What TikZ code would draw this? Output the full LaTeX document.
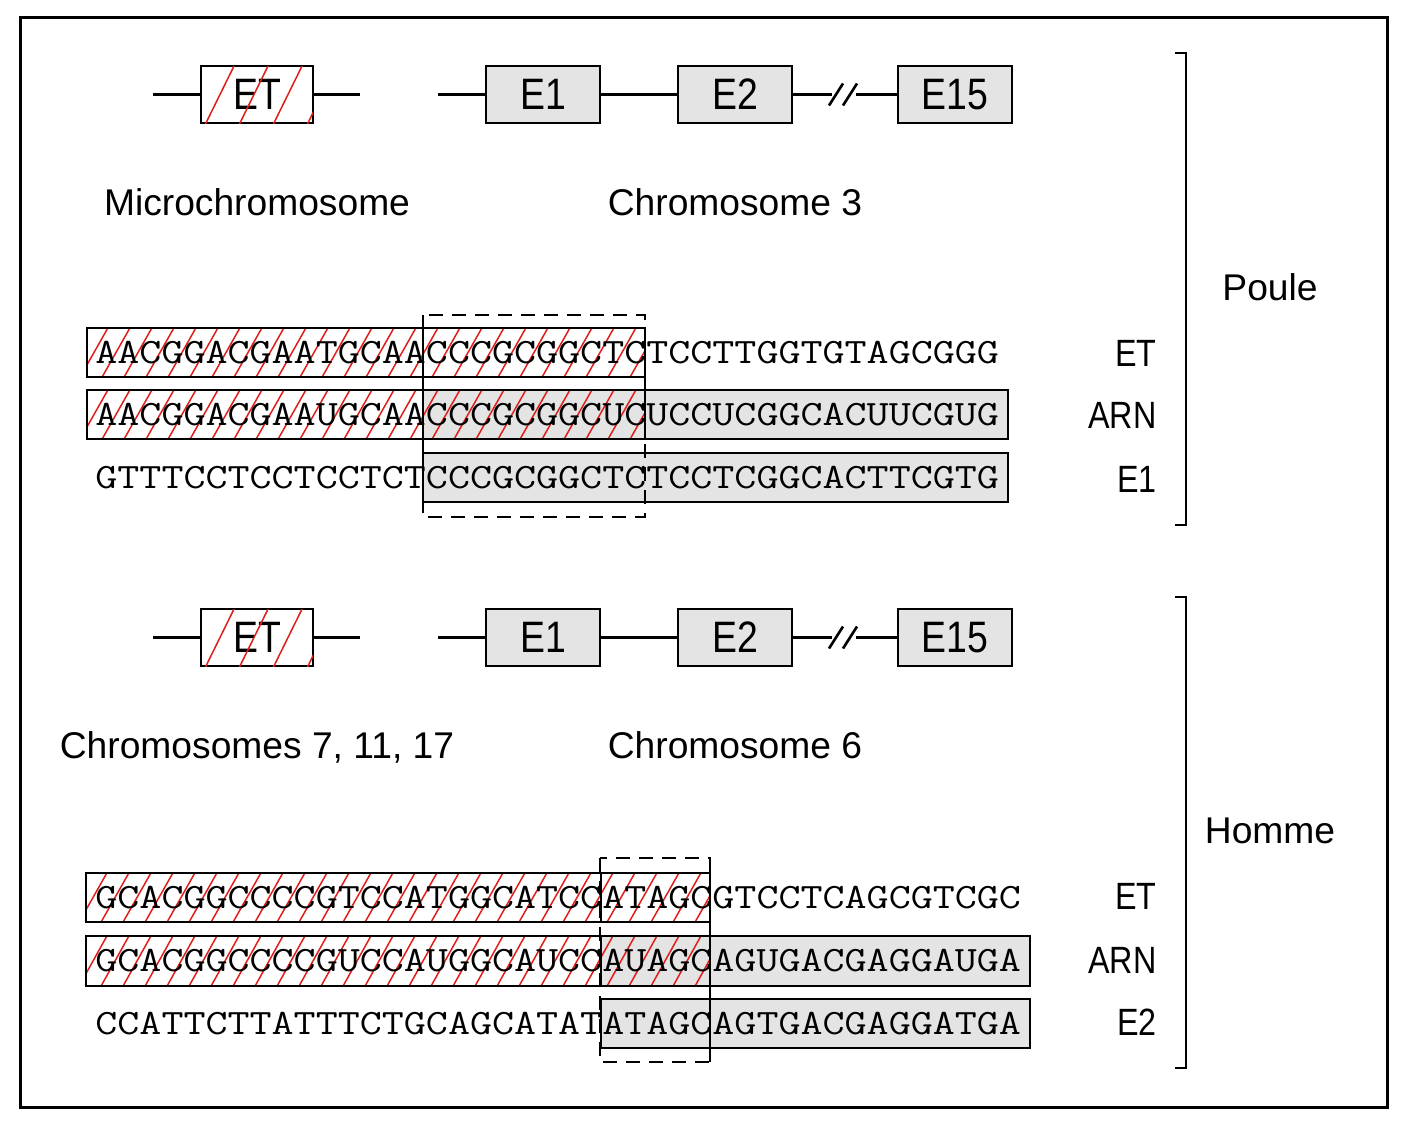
\documentclass[tikz,border=0pt]{standalone}
\usepackage{fontspec}
\setmainfont{Liberation Sans}
\newfontfamily\condfont[FakeStretch=0.85]{Liberation Sans}
\newfontfamily\seqfont[FakeStretch=1.2]{Latin Modern Mono}
\definecolor{greyfill}{RGB}{228,228,228}
\definecolor{hatchred}{RGB}{225,30,25}
\tikzset{
  frame/.style={line width=1.5pt},
  geneline/.style={line width=1.7pt},
  genebox/.style={draw,line width=1.4pt,fill=greyfill,minimum width=57pt,minimum height=28.5pt,inner sep=0pt,font=\condfont\fontsize{22}{24}\selectfont},
  seqbox/.style={line width=1.4pt},
  dashbox/.style={line width=1.4pt,dash pattern=on 7pt off 4.5pt},
  hatchline/.style={draw=hatchred,line width=0.75pt},
  seqtext/.style={anchor=west,inner sep=0pt,font=\seqfont\fontsize{17.83}{20}\selectfont},
  lab/.style={anchor=base,inner sep=0pt,font=\fontsize{18.6}{20}\selectfont},
  rlab/.style={anchor=base east,inner sep=0pt,font=\condfont\fontsize{19}{20}\selectfont},
}
% hatch a rectangle: x1,y1,x2,y2,spacing,run
\newcommand\hatchrect[6]{%
  \begin{scope}
    \clip (#1,#2) rectangle (#3,#4);
    \foreach \i in {0,...,50}{
      \draw[hatchline] ({#1-#6+\i*#5},{(#4)+2}) -- ++({#6*1.1},{-((#4)-(#2)+4)*1.1});
    }
  \end{scope}}
% gene row: y, prefix, left label, right label
\newcommand\generow[4]{%
  \node[genebox,fill=white,minimum width=56pt] (#2et) at (257,#1) {ET};
  \hatchrect{201}{#1-28.5}{313}{#1+28.5}{34}{30}
  \node[genebox] (#2e1) at (543,#1) {E1};
  \node[genebox] (#2e2) at (735,#1) {E2};
  \node[genebox] (#2e15) at (955,#1) {E15};
  \coordinate (#2a) at (153,#1);
  \coordinate (#2b) at (360,#1);
  \coordinate (#2c) at (438,#1);
  \coordinate (#2d) at (832,#1);
  \coordinate (#2f) at (856,#1);
  \draw[geneline] (#2a) -- (#2et.west);
  \draw[geneline] (#2et.east) -- (#2b);
  \draw[geneline] (#2c) -- (#2e1.west);
  \draw[geneline] (#2e1.east) -- (#2e2.west);
  \draw[geneline] (#2e2.east) -- (#2d);
  \draw[geneline] (#2f) -- (#2e15.west);
  \draw[line width=1.3pt] (829,#1+11) -- (843,#1-11);
  \draw[line width=1.3pt] (843,#1+11) -- (857,#1-11);
  \node[lab] (#2lab1) at (257,#1+120.5) {#3};
  \node[lab] (#2lab2) at (735,#1+120.5) {#4};
}
\begin{document}
\begin{tikzpicture}[x=0.5pt,y=-0.5pt]
\useasboundingbox (0,0) rectangle (1404,1124);
\draw[frame] (20,17) rectangle (1387,1107);

% ---------- Poule ----------
\generow{94.5}{p}{Microchromosome}{Chromosome 3}

\fill[greyfill] (423,390) rectangle (1008,439);
\fill[greyfill] (423,453) rectangle (1008,502);
\hatchrect{87}{328}{645}{377}{22}{30}
\hatchrect{87}{390}{645}{439}{22}{30}
\node[seqtext] (pt1) at (95,352.5) {AACGGACGAATGCAACCCGCGGCTCTCCTTGGTGTAGCGGG};
\node[seqtext] (pt2) at (95,414.5) {AACGGACGAAUGCAACCCGCGGCUCUCCUCGGCACUUCGUG};
\node[seqtext] (pt3) at (95,477.5) {GTTTCCTCCTCCTCTCCCGCGGCTCTCCTCGGCACTTCGTG};
\draw[seqbox] (87,328) rectangle (645,377);
\draw[seqbox] (87,390) rectangle (1008,439);
\draw[seqbox] (645,390) -- (645,439);
\draw[seqbox] (423,453) rectangle (1008,502);
\draw[seqbox] (423,315) -- (423,512);
\draw[dashbox] (423,315) rectangle (645,517);

\node[rlab] (pr1) at (1157,366) {ET};
\node[rlab] (pr2) at (1157,428) {ARN};
\node[rlab] (pr3) at (1157,492) {E1};

\coordinate (pb1) at (1175,53);
\coordinate (pb2) at (1186,53);
\coordinate (pb3) at (1186,525);
\coordinate (pb4) at (1175,525);
\draw[line width=1.4pt] (pb1) -- (pb2) -- (pb3) -- (pb4);
\node[lab] (poule) at (1270,300) {Poule};

% ---------- Homme ----------
\generow{637.5}{h}{Chromosomes 7, 11, 17}{Chromosome 6}

\fill[greyfill] (601,936) rectangle (1030,986);
\fill[greyfill] (601,999) rectangle (1030,1048);
\hatchrect{86}{873}{710}{922}{22}{30}
\hatchrect{86}{936}{710}{986}{22}{30}
\node[seqtext] (ht1) at (95,897.5) {GCACGGCCCCGTCCATGGCATCCATAGCGTCCTCAGCGTCGC};
\node[seqtext] (ht2) at (95,961) {GCACGGCCCCGUCCAUGGCAUCCAUAGCAGUGACGAGGAUGA};
\node[seqtext] (ht3) at (95,1023.5) {CCATTCTTATTTCTGCAGCATATATAGCAGTGACGAGGATGA};
\draw[seqbox] (86,873) rectangle (710,922);
\draw[seqbox] (601,873) -- (601,922);
\draw[seqbox] (86,936) rectangle (1030,986);
\draw[seqbox] (601,936) -- (601,986);
\draw[seqbox] (601,999) rectangle (1030,1048);
\draw[seqbox] (710,860) -- (710,1062);
\draw[dashbox] (600,858) rectangle (710,1062);

\node[rlab] (hr1) at (1157,909) {ET};
\node[rlab] (hr2) at (1157,973) {ARN};
\node[rlab] (hr3) at (1157,1035) {E2};

\coordinate (hb1) at (1175,597);
\coordinate (hb2) at (1186,597);
\coordinate (hb3) at (1186,1068);
\coordinate (hb4) at (1175,1068);
\draw[line width=1.4pt] (hb1) -- (hb2) -- (hb3) -- (hb4);
\node[lab] (homme) at (1270,843) {Homme};
\end{tikzpicture}
\end{document}
